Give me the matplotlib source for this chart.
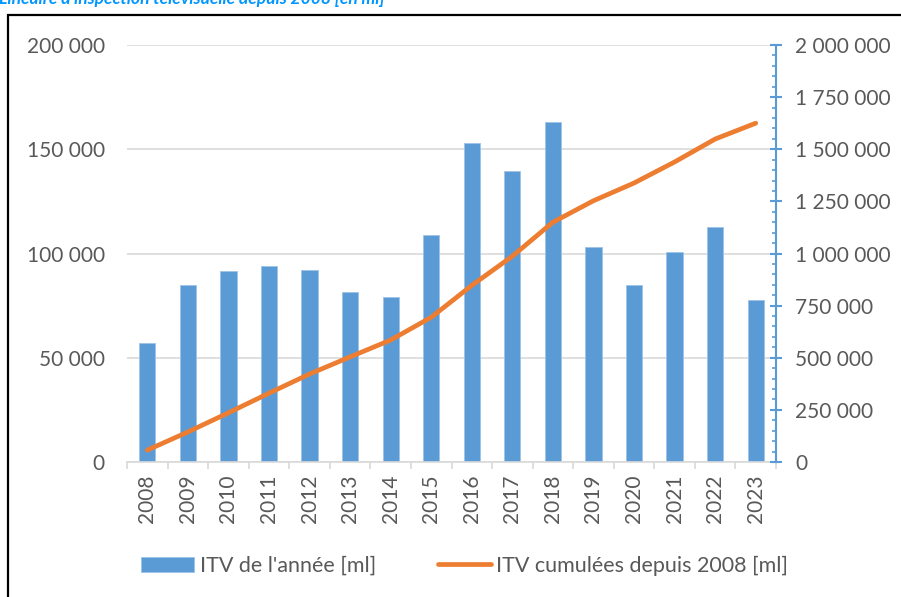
import matplotlib
matplotlib.use('Agg')
import matplotlib.pyplot as plt
from matplotlib.patches import Rectangle
from matplotlib.ticker import FuncFormatter, MultipleLocator, FixedLocator

years = ['2008', '2009', '2010', '2011', '2012', '2013', '2014', '2015',
         '2016', '2017', '2018', '2019', '2020', '2021', '2022', '2023']
itv_annee = [57000, 85000, 91700, 93800, 92200, 81500, 79000, 109000,
             153000, 139800, 163200, 103200, 85000, 100700, 112600, 77700]
itv_cumul = [57000, 144000, 236000, 330000, 422000, 504000, 585000, 694000,
             847000, 987000, 1150000, 1253000, 1338000, 1439000, 1549000, 1625000]

plt.rcParams['font.family'] = ['Lato', 'DejaVu Sans']
plt.rcParams['font.size'] = 15

gray = '#595959'
blue = '#5B9BD5'
orange = '#ED7D31'

def fmt(v, pos):
    return '{:,.0f}'.format(v).replace(',', ' ')

fig = plt.figure(figsize=(9.01, 5.97), dpi=100)
ax = fig.add_axes([127 / 901, 1 - 462 / 597, 649 / 901, 417 / 597])

x = list(range(len(years)))
ax.bar(x, itv_annee, width=0.4, color=blue, edgecolor='#9DC3E6', linewidth=0.6,
       label="ITV de l'année [ml]", zorder=2)
ax.set_xlim(-0.5, len(years) - 0.5)
ax.set_ylim(0, 200000)
ax.yaxis.set_major_locator(MultipleLocator(50000))
ax.yaxis.set_major_formatter(FuncFormatter(fmt))
ax.grid(axis='y', color='#D9D9D9', linewidth=1.2, zorder=0)
ax.set_axisbelow(True)
for s in ['top', 'right', 'left']:
    ax.spines[s].set_visible(False)
ax.spines['bottom'].set_color('#D9D9D9')
ax.spines['bottom'].set_linewidth(1.2)
ax.tick_params(axis='y', length=0, pad=16, colors=gray, labelsize=15)
ax.set_xticks(x)
ax.set_xticklabels(years, rotation=90)
ax.xaxis.set_minor_locator(FixedLocator([i - 0.5 for i in range(len(years) + 1)]))
ax.tick_params(axis='x', which='major', length=0, pad=9, colors=gray, labelsize=15)
ax.tick_params(axis='x', which='minor', length=5, width=1.2, color='#D9D9D9')

ax2 = ax.twinx()
ax2.plot(x, itv_cumul, color=orange, linewidth=3.4, solid_capstyle='round',
         solid_joinstyle='round', label='ITV cumulées depuis 2008 [ml]', zorder=3)
ax2.set_ylim(0, 2000000)
ax2.yaxis.set_major_locator(MultipleLocator(250000))
ax2.yaxis.set_minor_locator(MultipleLocator(50000))
ax2.yaxis.set_major_formatter(FuncFormatter(fmt))
for s in ['top', 'left', 'bottom']:
    ax2.spines[s].set_visible(False)
ax2.spines['right'].set_color(blue)
ax2.spines['right'].set_linewidth(1.5)
ax2.tick_params(axis='y', which='major', direction='inout', length=8, width=1.5,
                color=blue, labelcolor=gray, pad=10, labelsize=15)
ax2.tick_params(axis='y', which='minor', direction='in', length=3.2, width=1.2, color=blue)

h1, l1 = ax.get_legend_handles_labels()
h2, l2 = ax2.get_legend_handles_labels()
fig.legend(h1 + h2, l1 + l2, loc='center', bbox_to_anchor=(0.516, 0.052), ncol=2,
           frameon=False, fontsize=15.5, labelcolor=gray, handlelength=2.45,
           handleheight=0.7, handletextpad=0.25, columnspacing=2.9)

fig.patches.append(Rectangle((8 / 901, -0.1), 1.2, 1 - 15 / 597 + 0.1,
                             transform=fig.transFigure, fill=False,
                             edgecolor='black', linewidth=1.6))
fig.text(-0.001, 1 - 4 / 597, "Linéaire d'inspection télévisuelle depuis 2008 [en ml]",
         color='#0096FF', fontsize=12.5, fontweight='bold', fontstyle='italic',
         ha='left', va='baseline')

fig.savefig('out.png', dpi=100)
